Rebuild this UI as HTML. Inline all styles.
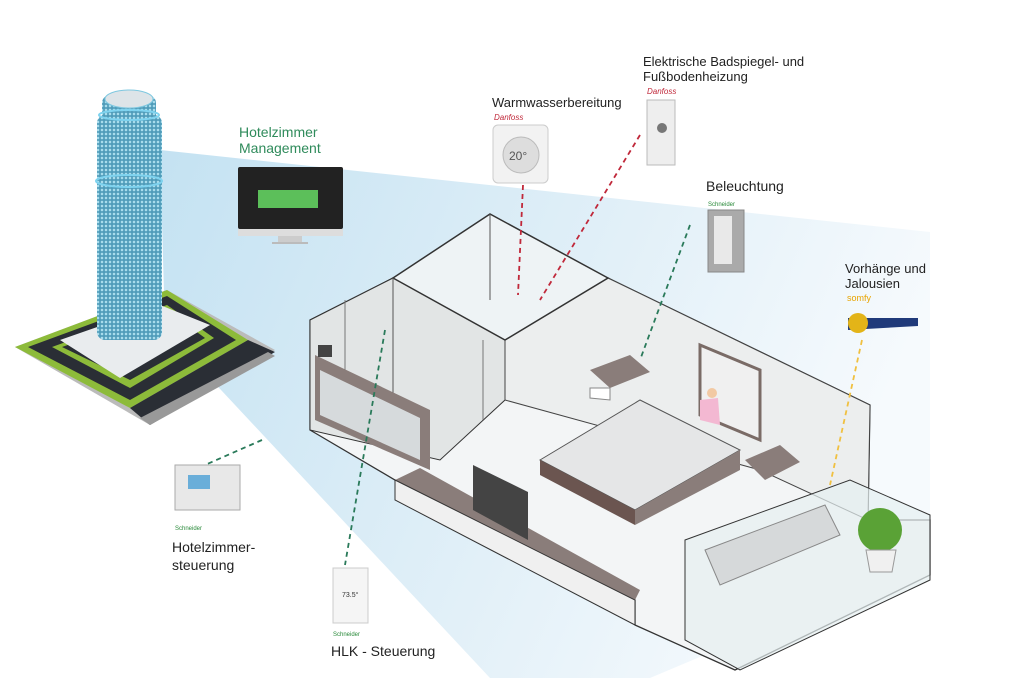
<!DOCTYPE html>
<html><head><meta charset="utf-8"><style>
html,body{margin:0;padding:0;background:#fff}
svg{display:block}
text{font-family:"Liberation Sans",sans-serif}
</style></head><body>
<svg width="1023" height="678" viewBox="0 0 1023 678" xmlns="http://www.w3.org/2000/svg">
<defs>
<linearGradient id="beam" x1="0" y1="0" x2="1" y2="0.3">
<stop offset="0" stop-color="#c4e2f2"/><stop offset="0.6" stop-color="#e2f0f8"/><stop offset="1" stop-color="#f6fafd"/>
</linearGradient>
<pattern id="win" width="4" height="4" patternUnits="userSpaceOnUse">
<rect width="4" height="4" fill="#4d9ab8"/><rect x="0.8" y="0.8" width="2.4" height="2.4" fill="#a8dcec"/>
</pattern>
</defs>
<polygon points="160,150 930,232 930,560 650,678 490,678 165,330" fill="url(#beam)"/>
<!-- base platform -->
<polygon points="15,347 167,290 275,350 150,425" fill="#bbb"/>
<polygon points="15,347 167,290 248,340 130,408" fill="#8dbb3a"/>
<polygon points="28,347 167,296 236,340 130,400" fill="#2a2e35"/>
<polygon points="52,347 167,305 214,338 130,388" fill="#8dbb3a"/>
<polygon points="62,347 167,310 205,338 130,380" fill="#2a2e35"/>
<polygon points="60,340 160,305 210,325 120,378" fill="#e9ecee"/>
<polygon points="130,408 248,340 275,352 150,425" fill="#2a2e35"/>
<polygon points="140,418 268,352 275,356 150,425" fill="#999"/>
<!-- tower -->
<rect x="97" y="115" width="65" height="225" rx="8" fill="url(#win)"/>
<rect x="102" y="95" width="54" height="30" rx="8" fill="url(#win)"/>
<ellipse cx="129" cy="99" rx="24" ry="9" fill="#dde4e8" stroke="#7fc8e0"/>
<ellipse cx="129" cy="181" rx="33" ry="6" fill="none" stroke="#7fd3ef" stroke-width="2"/>
<ellipse cx="129" cy="115" rx="30" ry="5" fill="none" stroke="#7fd3ef" stroke-width="2"/>
<!-- monitor -->
<rect x="238" y="167" width="105" height="62" rx="2" fill="#222"/>
<rect x="258" y="190" width="60" height="18" fill="#5cbf5a"/>
<rect x="238" y="229" width="105" height="7" fill="#ddd"/>
<rect x="278" y="236" width="24" height="6" fill="#ccc"/>
<rect x="272" y="242" width="36" height="2" fill="#bbb"/>
<text x="239" y="137" font-size="14" fill="#2f8b5b">Hotelzimmer</text>
<text x="239" y="153" font-size="14" fill="#2f8b5b">Management</text>
<!-- room floor -->
<polygon points="310,430 395,480 635,600 635,625 735,670 930,575 930,520 868,520 870,405 608,278 505,340 393,278 310,320" fill="#f3f5f6" stroke="#333" stroke-width="1.3"/>
<polygon points="310,320 393,278 505,340 505,400 440,460 310,430" fill="#e2e5e5" stroke="#333"/>
<polygon points="505,340 608,278 870,405 868,520 760,470 505,400" fill="#eceeee" stroke="#444"/>
<polygon points="393,278 490,214 608,278 505,340" fill="#eef3f5" stroke="#333" stroke-width="1.5"/>
<line x1="490" y1="214" x2="490" y2="300" stroke="#555"/>
<line x1="393" y1="278" x2="393" y2="400" stroke="#555"/>
<line x1="483" y1="340" x2="483" y2="420" stroke="#777"/>
<line x1="345" y1="300" x2="345" y2="380" stroke="#777"/>
<!-- wardrobe -->
<polygon points="315,355 430,410 430,470 315,420" fill="#8a7d7a"/>
<polygon points="320,370 420,418 420,460 320,415" fill="#d6dadc"/>
<rect x="318" y="345" width="14" height="12" fill="#444"/>
<!-- counter -->
<polygon points="395,480 420,468 640,590 635,600" fill="#8a7d7a"/>
<polygon points="395,480 635,600 635,625 395,500" fill="#f0f0f0" stroke="#333"/>
<polygon points="473,465 528,492 528,540 473,510" fill="#444"/>
<!-- bed -->
<polygon points="700,345 760,370 760,440 700,415" fill="#f0f0f0" stroke="#7a6b66" stroke-width="3"/>
<polygon points="590,370 630,355 650,372 610,388" fill="#8a7d7a"/>
<polygon points="590,388 610,388 610,400 590,398" fill="#fff" stroke="#888"/>
<polygon points="745,460 780,445 800,462 765,480" fill="#8a7d7a"/>
<polygon points="540,460 640,400 740,450 635,510" fill="#e5e6e7" stroke="#555"/>
<polygon points="540,460 635,510 635,525 540,475" fill="#6b5550"/>
<polygon points="635,510 740,450 740,470 635,525" fill="#8a7d7a"/>
<circle cx="712" cy="393" r="5" fill="#f2c9a3"/>
<polygon points="700,400 718,398 720,425 700,420" fill="#f3b8d2"/>
<!-- balcony -->
<polygon points="685,540 850,480 930,515 930,580 740,670 685,640" fill="#e6eff1" fill-opacity="0.7" stroke="#333"/>
<polygon points="705,550 825,505 840,535 720,585" fill="#d6d9da" stroke="#888"/>
<circle cx="880" cy="530" r="22" fill="#5aa236"/>
<polygon points="866,550 896,550 892,572 870,572" fill="#f0f0f0" stroke="#999"/>
<!-- devices -->
<rect x="493" y="125" width="55" height="58" rx="5" fill="#f2f2f2" stroke="#ccc"/>
<circle cx="521" cy="155" r="18" fill="#ddd" stroke="#bbb"/>
<text x="509" y="160" font-size="12" fill="#555">20°</text>
<rect x="647" y="100" width="28" height="65" fill="#eee" stroke="#bbb"/>
<circle cx="662" cy="128" r="5" fill="#777"/>
<rect x="708" y="210" width="36" height="62" fill="#aaa" stroke="#888"/>
<rect x="714" y="216" width="18" height="48" fill="#e9e9e9"/>
<polygon points="848,318 918,318 918,326 848,330" fill="#203a7a"/>
<circle cx="858" cy="323" r="10" fill="#e3b418"/>
<rect x="175" y="465" width="65" height="45" fill="#e8e8e8" stroke="#aaa"/>
<rect x="188" y="475" width="22" height="14" fill="#6aaed9"/>
<rect x="333" y="568" width="35" height="55" fill="#f5f5f5" stroke="#ccc"/>
<text x="342" y="597" font-size="7" fill="#333">73.5°</text>
<g fill="none" stroke-width="1.8" stroke-dasharray="5,4">
<line x1="523" y1="185" x2="518" y2="295" stroke="#c0283a"/>
<line x1="640" y1="135" x2="540" y2="300" stroke="#c0283a"/>
<line x1="690" y1="225" x2="640" y2="360" stroke="#2a7a5a"/>
<line x1="862" y1="340" x2="830" y2="485" stroke="#f0c040"/>
<line x1="262" y1="440" x2="205" y2="465" stroke="#2a7a5a"/>
<line x1="385" y1="330" x2="345" y2="565" stroke="#2a7a5a"/>
</g>
<g font-size="13" fill="#222">
<text x="492" y="107">Warmwasserbereitung</text>
<text x="643" y="66">Elektrische Badspiegel- und</text>
<text x="643" y="81">Fußbodenheizung</text>
<text x="706" y="191" font-size="14">Beleuchtung</text>
<text x="845" y="273">Vorhänge und</text>
<text x="845" y="288">Jalousien</text>
<text x="172" y="552" font-size="14">Hotelzimmer-</text>
<text x="172" y="570" font-size="14">steuerung</text>
<text x="331" y="656" font-size="14">HLK - Steuerung</text>
</g>
<text x="847" y="301" font-size="9" fill="#e8a400">somfy</text>
<text x="494" y="120" font-size="8" fill="#c0283a" font-style="italic">Danfoss</text>
<text x="647" y="94" font-size="8" fill="#c0283a" font-style="italic">Danfoss</text>
<text x="708" y="206" font-size="6" fill="#2a8a3a">Schneider</text>
<text x="175" y="530" font-size="6" fill="#2a8a3a">Schneider</text>
<text x="333" y="636" font-size="6" fill="#2a8a3a">Schneider</text>
</svg>
</body></html>
